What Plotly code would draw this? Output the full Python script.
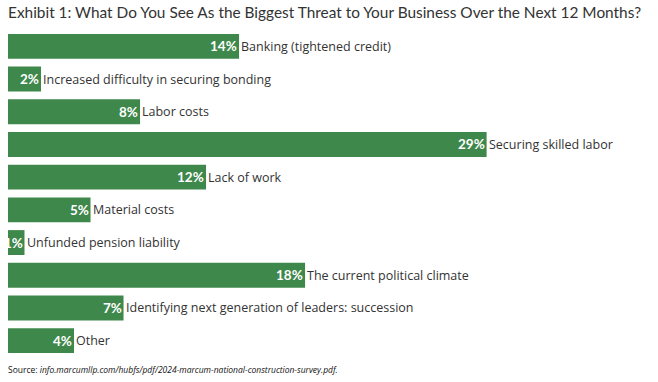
import plotly.graph_objects as go

categories = ["Banking (tightened credit)", "Increased difficulty in securing bonding", "Labor costs",
              "Securing skilled labor", "Lack of work", "Material costs", "Unfunded pension liability",
              "The current political climate", "Identifying next generation of leaders: succession", "Other"]
values = [14, 2, 8, 29, 12, 5, 1, 18, 7, 4]

GREEN = "#3f884c"
TXT = "#333333"
FONT = "Open Sans"

fig = go.Figure(go.Bar(
    x=values, y=categories, orientation="h",
    marker=dict(color=GREEN, line=dict(width=0)),
    width=0.76, hoverinfo="skip",
))

ann = []
for c, v in zip(categories, values):
    ann.append(dict(x=v, y=c, xref="x", yref="y", text=f"<b>{v}%</b>", showarrow=False,
                    xanchor="right", xshift=-1, borderpad=0, font=dict(family="Lato", size=13.5, color="white")))
    ann.append(dict(x=v, y=c, xref="x", yref="y", text=c, showarrow=False,
                    xanchor="left", xshift=0, font=dict(family=FONT, size=12.5, color=TXT)))
ann.append(dict(x=0, y=1, xref="paper", yref="paper", yshift=29, xshift=-2,
                text="Exhibit 1: What Do You See As the Biggest Threat to Your Business Over the Next 12 Months?",
                showarrow=False, xanchor="left", yanchor="top",
                font=dict(family="Lato", size=15.4, color=TXT)))
ann.append(dict(x=0, y=0, xref="paper", yref="paper", yshift=-5, xshift=-2,
                text="Source: <i>info.marcumllp.com/hubfs/pdf/2024-marcum-national-construction-survey.pdf.</i>",
                showarrow=False, xanchor="left", yanchor="top",
                font=dict(family=FONT, size=8.5, color="#111111")))

fig.update_layout(
    width=658, height=382,
    margin=dict(l=8, r=8, t=30, b=25),
    paper_bgcolor="white", plot_bgcolor="white",
    showlegend=False,
    xaxis=dict(range=[0, 38.9], visible=False, fixedrange=True),
    yaxis=dict(autorange="reversed", visible=False, fixedrange=True),
    annotations=ann,
    bargap=0.24,
)
fig.write_html("out.html", config={"displayModeBar": False},
               post_script="document.body.style.margin='0';document.body.style.overflow='hidden';")
